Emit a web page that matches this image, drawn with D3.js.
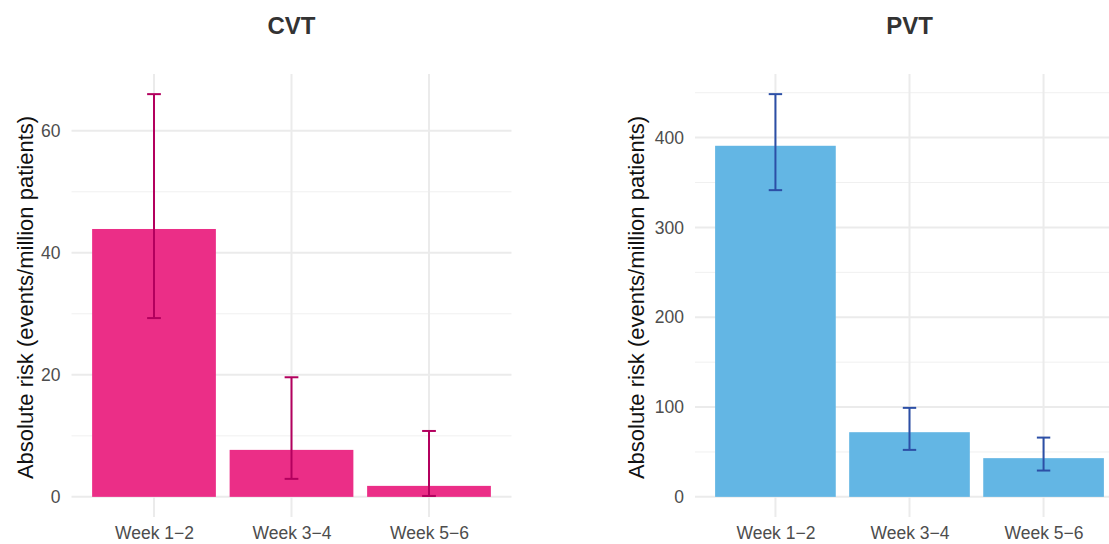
<!DOCTYPE html>
<html>
<head>
<meta charset="utf-8">
<script src="https://cdn.jsdelivr.net/npm/d3@7"></script>
<style>
  body { margin: 0; background: #fff; }
  svg { display: block; font-family: "Liberation Sans", Arial, sans-serif; }
  .tick text { fill: #4d4d4d; font-size: 17.5px; }
</style>
</head>
<body>
<div id="content"></div>
<script>
(function() {

// Data
var weeks = ['Week 1\u22122', 'Week 3\u22124', 'Week 5\u22126'];

var cvtRisk  = [43.9, 7.7, 1.8];
var cvtLower = [29.3, 2.95, 0.15];
var cvtUpper = [66.0, 19.6, 10.8];
var cvtTicks = [0, 20, 40, 60];
var cvtMinor = [10, 30, 50];

var pvtRisk  = [390.9, 72.0, 43.1];
var pvtLower = [341.5, 52.3, 29.3];
var pvtUpper = [448.4, 99.1, 66.0];
var pvtTicks = [0, 100, 200, 300, 400];
var pvtMinor = [50, 150, 250, 350, 450];

var svg = d3.select('#content')
    .append('svg')
    .attr('width', 1109)
    .attr('height', 544);

graphPanel(svg, {
  title: 'CVT', left: 71.5, right: 511.5, risk: cvtRisk, lower: cvtLower, upper: cvtUpper,
  ticks: cvtTicks, minor: cvtMinor, fill: '#EB2E87', err: '#B3005E', labelX: 25
});
graphPanel(svg, {
  title: 'PVT', left: 695, right: 1124, risk: pvtRisk, lower: pvtLower, upper: pvtUpper,
  ticks: pvtTicks, minor: pvtMinor, fill: '#63B6E4', err: '#2C4FA6', labelX: 636
});

function graphPanel(svg, p) {
  var top = 74, bottom = 517;

  // ggplot style discrete scale: 0.6 units of padding on each side
  var step = (p.right - p.left) / (weeks.length + 0.2);
  var x = function(i) { return p.left + (0.6 + i) * step; };
  var barW = 0.9 * step;
  var capW = 0.1 * step;

  var ymax = d3.max(p.upper);
  var pad = ymax * 0.05;
  var y = d3.scaleLinear().domain([-pad, ymax + pad]).range([bottom, top]);

  var g = svg.append('g');

  // minor grid
  g.selectAll('.minor').data(p.minor).enter().append('line')
      .attr('x1', p.left).attr('x2', p.right)
      .attr('y1', function(d) { return y(d); })
      .attr('y2', function(d) { return y(d); })
      .attr('stroke', '#f0f0f0').attr('stroke-width', 1);

  // major grid
  g.selectAll('.major').data(p.ticks).enter().append('line')
      .attr('x1', p.left).attr('x2', p.right)
      .attr('y1', function(d) { return y(d); })
      .attr('y2', function(d) { return y(d); })
      .attr('stroke', '#ebebeb').attr('stroke-width', 2);

  g.selectAll('.vgrid').data(weeks).enter().append('line')
      .attr('x1', function(d, i) { return x(i); })
      .attr('x2', function(d, i) { return x(i); })
      .attr('y1', top).attr('y2', bottom)
      .attr('stroke', '#ebebeb').attr('stroke-width', 2);

  // bars
  g.selectAll('.bar').data(p.risk).enter().append('rect')
      .attr('x', function(d, i) { return x(i) - barW / 2; })
      .attr('width', barW)
      .attr('y', function(d) { return y(d); })
      .attr('height', function(d) { return y(0) - y(d); })
      .attr('fill', p.fill);

  // error bars
  var eb = g.selectAll('.err').data(p.risk).enter().append('g')
      .attr('stroke', p.err).attr('stroke-width', 2).attr('fill', 'none');
  eb.append('line')
      .attr('x1', function(d, i) { return x(i); })
      .attr('x2', function(d, i) { return x(i); })
      .attr('y1', function(d, i) { return y(p.lower[i]); })
      .attr('y2', function(d, i) { return y(p.upper[i]); });
  eb.append('line')
      .attr('x1', function(d, i) { return x(i) - capW / 2; })
      .attr('x2', function(d, i) { return x(i) + capW / 2; })
      .attr('y1', function(d, i) { return y(p.upper[i]); })
      .attr('y2', function(d, i) { return y(p.upper[i]); });
  eb.append('line')
      .attr('x1', function(d, i) { return x(i) - capW / 2; })
      .attr('x2', function(d, i) { return x(i) + capW / 2; })
      .attr('y1', function(d, i) { return y(p.lower[i]); })
      .attr('y2', function(d, i) { return y(p.lower[i]); });

  // y axis
  var yAxis = g.append('g')
      .attr('transform', 'translate(' + p.left + ',0)')
      .call(d3.axisLeft(y).tickValues(p.ticks).tickSize(0).tickPadding(11));
  yAxis.select('.domain').remove();

  // x axis
  var xs = d3.scalePoint().domain(weeks).range([x(0), x(weeks.length - 1)]);
  var xAxis = g.append('g')
      .attr('transform', 'translate(0,' + bottom + ')')
      .call(d3.axisBottom(xs).tickSize(0).tickPadding(10));
  xAxis.select('.domain').remove();

  // titles
  g.append('text')
      .attr('x', (p.left + p.right) / 2)
      .attr('y', 34)
      .attr('text-anchor', 'middle')
      .attr('font-size', 24)
      .attr('font-weight', 'bold')
      .attr('fill', '#333')
      .text(p.title);

  g.append('text')
      .attr('transform', 'rotate(-90)')
      .attr('x', -(top + bottom) / 2 - 2)
      .attr('y', p.labelX)
      .attr('dy', '0.35em')
      .attr('text-anchor', 'middle')
      .attr('font-size', 22)
      .attr('fill', '#111')
      .text('Absolute risk (events/million patients)');
}

})();
</script>
</body>
</html>
